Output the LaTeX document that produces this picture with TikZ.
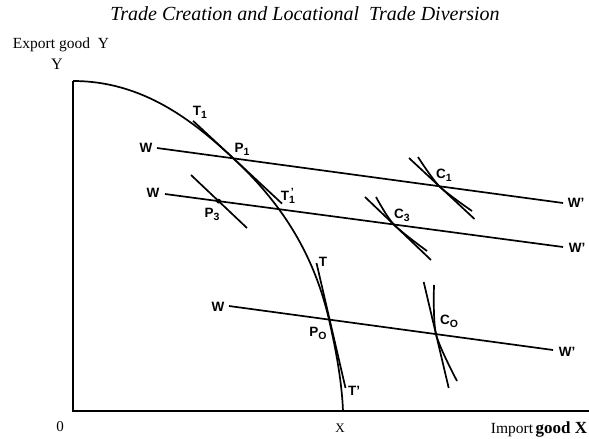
\documentclass[tikz,border=0pt]{standalone}
\usepackage{fontspec}
\setmainfont{Liberation Serif}
\setsansfont{Liberation Sans}
\usetikzlibrary{calc}

% lowered index, and lowered index with a prime above it
\newcommand\lo[1]{\raisebox{-3pt}{\fontsize{10.5}{11}\selectfont #1}}
\newcommand\lop[1]{\raisebox{-3pt}{\fontsize{10.5}{11}\selectfont\rlap{\raisebox{8.5pt}{\,'}}#1}}

\begin{document}
\begin{tikzpicture}[x=1pt, y=-1pt, line width=1.7pt,
    lbl/.style={font=\sffamily\bfseries\fontsize{13.5}{14}\selectfont, inner sep=0pt},
    axlbl/.style={inner sep=0pt}]
    \useasboundingbox (0,0) rectangle (589,439);

    % title and axis texts
    \node[font=\itshape\fontsize{20}{20}\selectfont] (title) at (305,14) {Trade Creation and Locational\ \ Trade Diversion};
    \node[axlbl, font=\fontsize{15.5}{16}\selectfont] (ylong) at (61,45) {Export good\ \ Y};
    \node[axlbl, font=\fontsize{16}{16}\selectfont] (ylab) at (57,64) {Y};
    \node[axlbl, font=\fontsize{15}{15}\selectfont] (orig) at (60,427) {0};
    \node[axlbl, font=\fontsize{13}{13}\selectfont] (xlab) at (340,428) {X};
    \node[axlbl, anchor=base east] (xlong) at (588,433)
      {{\fontsize{15.5}{16}\selectfont Import} {\bfseries\fontsize{17}{17}\selectfont good X}};

    % axes and production frontier, tangent at P1 and P0
    \coordinate (ytop) at (73,81);
    \coordinate (o) at (73,411);
    \coordinate (xend) at (589,411);
    \coordinate (xcut) at (343,411);
    \coordinate (P1) at (233,158);
    \coordinate (P0) at (329,319.6);
    \draw[line width=1.9pt] (ytop) -- (o) -- (xend);
    \draw (ytop) .. controls +(70,0) and ($(P1)+(-40,-37.2)$) .. (P1)
      .. controls ($(P1)+(45,41.9)$) and ($(P0)+(-16.2,-70)$) .. (P0)
      .. controls ($(P0)+(8.1,35)$) and (342,385) .. (xcut);

    % price lines W -- W'
    \coordinate (w1a) at (157,148);   \coordinate (w1b) at (563,203);
    \coordinate (w3a) at (165,194);   \coordinate (w3b) at (563,247);
    \coordinate (w0a) at (229,306);   \coordinate (w0b) at (553,350);
    % tangents at the production points
    \coordinate (t1a) at (193,120.8); \coordinate (t1b) at (282,203.6);
    \coordinate (p3a) at (191,175);   \coordinate (p3b) at (247,228);
    \coordinate (t0a) at (316.5,263); \coordinate (t0b) at (345.5,388);
    % tangents at the consumption points
    \coordinate (c1a) at (409,158);   \coordinate (c1b) at (474.5,219);
    \coordinate (c3a) at (365,197);   \coordinate (c3b) at (431,260);
    \coordinate (c0a) at (423.7,282); \coordinate (c0b) at (448.7,388);

    \foreach \a/\b in {w1a/w1b, w3a/w3b, w0a/w0b, t1a/t1b, p3a/p3b, t0a/t0b, c1a/c1b, c3a/c3b, c0a/c0b}
      \draw (\a) -- (\b);

    \coordinate (P3) at (intersection of w3a--w3b and p3a--p3b);
    \coordinate (C1) at (intersection of w1a--w1b and c1a--c1b);
    \coordinate (C3) at (intersection of w3a--w3b and c3a--c3b);
    \coordinate (C0) at (intersection of w0a--w0b and c0a--c0b);
    \fill (P3) circle (2.4);

    % indifference curves
    \draw plot[smooth] coordinates {(418,157) (C1) (472,211)};
    \draw plot[smooth] coordinates {(376,197) (C3) (427,251)};
    \draw plot[smooth] coordinates {(434,285) (C0) (457,381)};

    % point labels
    \foreach \n/\p/\t in {lt1/{200,112}/{T\lo{1}}, lp1/{242,149}/{P\lo{1}}, lt1p/{288,196}/{T\lop{1}},
        lw1/{146,148}/W, lw3/{153,193}/W, lp3/{212,214}/{P\lo{3}},
        lc1/{444,175}/{C\lo{1}}, lc3/{402,215}/{C\lo{3}}, lw1p/{576,203}/{W'}, lw3p/{577,248}/{W'},
        lt/{323,262}/T, lw0/{218,307}/W, lp0/{318,333}/{P\lo{O}}, ltp/{354,391}/{T'},
        lc0/{449,321}/{C\lo{O}}, lw0p/{567,352}/{W'}}
      \node[lbl] (\n) at (\p) {\t};
\end{tikzpicture}
\end{document}
